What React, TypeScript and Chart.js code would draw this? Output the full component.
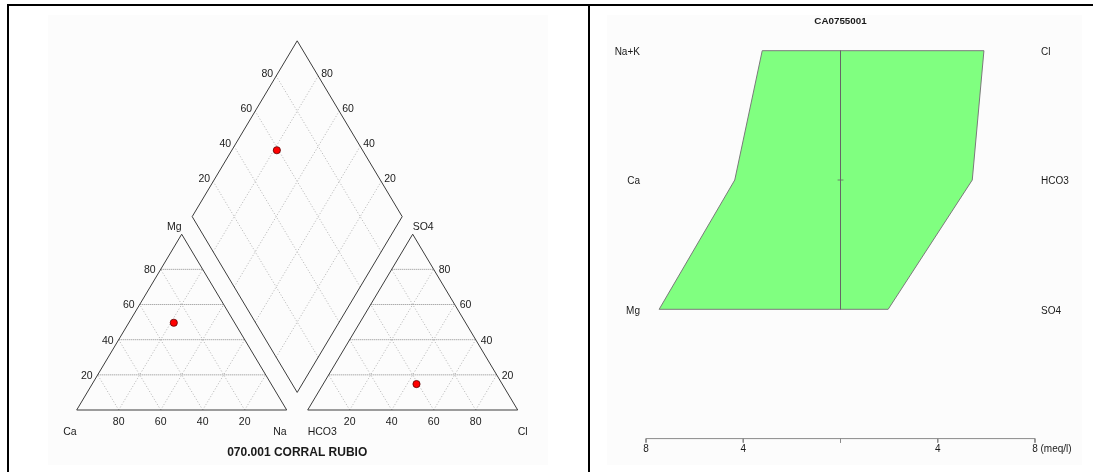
import React, { useEffect, useRef } from 'react';
import { Chart, registerables } from 'chart.js';

Chart.register(...registerables);

const W = 1093;
const H = 472;

// Sample composition (meq/l)
const cationNames = ['Na+K', 'Ca', 'Mg'];
const cationMeq = [3.22, 4.35, 7.46];
const anionNames = ['Cl', 'HCO3', 'SO4'];
const anionMeq = [5.9, 5.42, 1.96];

// Axis ticks
const percentTicks = [20, 40, 60, 80];
const stiffTicks = [-8, -4, 0, 4, 8];
const stiffTickLabels = ['8', '4', '', '4', '8'];
const stiffUnit = '(meq/l)';

const piperTitle = '070.001 CORRAL RUBIO';
const stiffTitle = 'CA0755001';

const FONT = '"Liberation Sans", Arial, Helvetica, sans-serif';

// Piper geometry: triangle side 100, gap 10 between triangles
const S3 = Math.sqrt(3) / 2;
const GAP = 10;
const AX = 100 + GAP;

type Pt = { x: number; y: number };

const seg = (a: Pt, b: Pt): Pt[] => [a, b];

function piperPoints() {
  const ct = cationMeq.reduce((s, v) => s + v, 0);
  const at = anionMeq.reduce((s, v) => s + v, 0);
  const na = (cationMeq[0] / ct) * 100;
  const mg = (cationMeq[2] / ct) * 100;
  const cl = (anionMeq[0] / at) * 100;
  const so4 = (anionMeq[2] / at) * 100;
  const c: Pt = { x: na + mg / 2, y: mg * S3 };
  const a: Pt = { x: AX + cl + so4 / 2, y: so4 * S3 };
  // projection of both points into the diamond
  const t = (2 * (a.x - c.x) + (a.y - c.y) / S3) / 2;
  const d: Pt = { x: c.x + 0.5 * t, y: c.y + S3 * t };
  return { c, a, d };
}

function triangleGrid(ox: number) {
  const hor: Pt[][] = [];
  const diag: Pt[][] = [];
  percentTicks.forEach((v) => {
    hor.push(seg({ x: ox + v / 2, y: v * S3 }, { x: ox + 100 - v / 2, y: v * S3 }));
    diag.push(seg({ x: ox + v, y: 0 }, { x: ox + v + (100 - v) / 2, y: (100 - v) * S3 }));
    diag.push(seg({ x: ox + 100 - v, y: 0 }, { x: ox + (100 - v) / 2, y: (100 - v) * S3 }));
  });
  return { hor, diag };
}

const G: Pt = { x: 105, y: GAP * S3 };
const DL: Pt = { x: 55, y: GAP * S3 + 100 * S3 };
const DT: Pt = { x: 105, y: GAP * S3 + 200 * S3 };
const DR: Pt = { x: 155, y: GAP * S3 + 100 * S3 };

const lerp = (a: Pt, b: Pt, f: number): Pt => ({ x: a.x + (b.x - a.x) * f, y: a.y + (b.y - a.y) * f });

function diamondGrid() {
  const lines: Pt[][] = [];
  percentTicks.forEach((v) => {
    const f = v / 100;
    lines.push(seg(lerp(G, DL, f), lerp(DR, DT, f)));
    lines.push(seg(lerp(G, DR, f), lerp(DL, DT, f)));
  });
  return lines;
}

// pixel mapping of the two coordinate systems (full canvas = chart area)
const PX_X = 2.1;
const PX_Y = 2.03;
const X_MIN = -76.7 / PX_X;
const Y_MAX = 410 / PX_Y;
const SX_PX = 24.31;
const SX_MIN = -840.5 / SX_PX;
const SY_PX = 129.3;
const SY_MIN = -50.7 / SY_PX;

const lineDs = (pts: Pt[], color: string, width = 1, dash: number[] = [], stiff = false) => ({
  data: pts,
  showLine: true,
  borderColor: color,
  borderWidth: width,
  borderDash: dash,
  pointRadius: 0,
  pointHoverRadius: 0,
  fill: false,
  tension: 0,
  xAxisID: stiff ? 'xs' : 'x',
  yAxisID: stiff ? 'ys' : 'y',
});

const framePlugin = {
  id: 'frame',
  beforeDraw(chart: any) {
    const { ctx } = chart;
    ctx.save();
    ctx.fillStyle = '#ffffff';
    ctx.fillRect(0, 0, W, H);
    ctx.fillStyle = '#fcfcfc';
    ctx.fillRect(48, 15, 500, 450);
    ctx.fillRect(607, 15, 475, 450);
    ctx.fillStyle = '#000000';
    ctx.fillRect(7, 4, W - 7, 2);
    ctx.fillRect(7, 4, 2, H - 4);
    ctx.fillRect(588, 4, 2, H - 4);
    ctx.restore();
  },
};

const labelPlugin = {
  id: 'labels',
  afterDatasetsDraw(chart: any) {
    const { ctx } = chart;
    const sx = chart.scales.x;
    const sy = chart.scales.y;
    const tx = chart.scales.xs;
    const ty = chart.scales.ys;
    const P = (p: Pt) => [sx.getPixelForValue(p.x), sy.getPixelForValue(p.y)];
    const text = (s: string, x: number, y: number, align: CanvasTextAlign, font: string) => {
      ctx.font = font;
      ctx.textAlign = align;
      ctx.textBaseline = 'middle';
      ctx.fillStyle = '#1a1a1a';
      ctx.fillText(s, x, y);
    };
    ctx.save();
    const f = `10.5px ${FONT}`;

    // cation triangle
    percentTicks.forEach((v) => {
      const [lx, ly] = P({ x: v / 2, y: v * S3 });
      text(String(v), lx - 5, ly + 1, 'right', f);
      const [bx, by] = P({ x: 100 - v, y: 0 });
      text(String(v), bx, by + 12, 'center', f);
    });
    const [cax, cay] = P({ x: 0, y: 0 });
    text(cationNames[1], cax, cay + 22, 'right', f);
    const [nax, nay] = P({ x: 100, y: 0 });
    text('Na', nax, nay + 22, 'right', f);
    const [mgx, mgy] = P({ x: 50, y: 100 * S3 });
    text(cationNames[2], mgx, mgy - 7, 'right', f);

    // anion triangle
    percentTicks.forEach((v) => {
      const [rx, ry] = P({ x: AX + 100 - v / 2, y: v * S3 });
      text(String(v), rx + 5, ry + 1, 'left', f);
      const [bx, by] = P({ x: AX + v, y: 0 });
      text(String(v), bx, by + 12, 'center', f);
    });
    const [hx, hy] = P({ x: AX, y: 0 });
    text(anionNames[1], hx, hy + 22, 'left', f);
    const [clx, cly] = P({ x: AX + 100, y: 0 });
    text(anionNames[0], clx, cly + 22, 'left', f);
    const [sox, soy] = P({ x: AX + 50, y: 100 * S3 });
    text(anionNames[2], sox, soy - 7, 'left', f);

    // diamond
    percentTicks.forEach((v) => {
      const [lx, ly] = P(lerp(DL, DT, v / 100));
      text(String(v), lx - 3, ly - 2, 'right', f);
      const [rx, ry] = P(lerp(DR, DT, v / 100));
      text(String(v), rx + 3, ry - 2, 'left', f);
    });

    const [tcx, tcy] = P({ x: 105, y: 0 });
    text(piperTitle, tcx, tcy + 43, 'center', `bold 12px ${FONT}`);

    // Stiff diagram labels
    const sf = `10px ${FONT}`;
    const row = (i: number) => ty.getPixelForValue(i);
    text(stiffTitle, tx.getPixelForValue(0), 21.7, 'center', `bold 9.8px ${FONT}`);
    cationNames.forEach((n, i) => text(n, tx.getPixelForValue(-8.25), row(i) + 1.5, 'right', sf));
    anionNames.forEach((n, i) => text(n, tx.getPixelForValue(8.25), row(i) + 1.5, 'left', sf));
    stiffTicks.forEach((t, i) => {
      const lab = stiffTickLabels[i];
      if (!lab) return;
      text(lab, tx.getPixelForValue(t), row(3) + 11, 'center', sf);
    });
    ctx.font = sf;
    const last = stiffTicks[stiffTicks.length - 1];
    const w8 = ctx.measureText(stiffTickLabels[stiffTickLabels.length - 1]).width;
    const ws = ctx.measureText(' ').width;
    text(stiffUnit, tx.getPixelForValue(last) + w8 / 2 + ws, row(3) + 11, 'left', sf);

    ctx.restore();
  },
};

export default function App() {
  const ref = useRef<HTMLCanvasElement | null>(null);

  useEffect(() => {
    if (!ref.current) return;
    const { c, a, d } = piperPoints();
    const cg = triangleGrid(0);
    const ag = triangleGrid(AX);
    const dg = diamondGrid();

    const edge = '#3c3c3c';
    const gridHor = '#8a8a8a';
    const gridDiag = '#b4b4b4';

    const stiffPoly: Pt[] = [
      { x: -cationMeq[0], y: 0 },
      { x: anionMeq[0], y: 0 },
      { x: anionMeq[1], y: 1 },
      { x: anionMeq[2], y: 2 },
      { x: -cationMeq[2], y: 2 },
      { x: -cationMeq[1], y: 1 },
      { x: -cationMeq[0], y: 0 },
    ];
    const tickLen = 4 / SY_PX;

    const datasets: any[] = [
      {
        data: [c, a, d],
        showLine: false,
        pointRadius: 3.6,
        pointHoverRadius: 3.6,
        pointBackgroundColor: '#ff0000',
        pointBorderColor: '#5a0000',
        pointBorderWidth: 0.8,
        xAxisID: 'x',
        yAxisID: 'y',
      },
      lineDs([{ x: 0, y: 0 }, { x: 100, y: 0 }, { x: 50, y: 100 * S3 }, { x: 0, y: 0 }], edge),
      lineDs([{ x: AX, y: 0 }, { x: AX + 100, y: 0 }, { x: AX + 50, y: 100 * S3 }, { x: AX, y: 0 }], edge),
      lineDs([G, DR, DT, DL, G], edge),
      ...cg.hor.map((s) => lineDs(s, gridHor, 1, [1, 1])),
      ...ag.hor.map((s) => lineDs(s, gridHor, 1, [1, 1])),
      ...cg.diag.map((s) => lineDs(s, gridDiag, 1, [1, 2])),
      ...ag.diag.map((s) => lineDs(s, gridDiag, 1, [1, 2])),
      ...dg.map((s) => lineDs(s, gridDiag, 1, [1, 2])),
      // Stiff diagram
      lineDs([{ x: 0, y: 0 }, { x: 0, y: 2 }], '#666666', 0.8, [], true),
      lineDs([{ x: -0.12, y: 1 }, { x: 0.12, y: 1 }], '#666666', 0.8, [], true),
      {
        ...lineDs(stiffPoly, '#7a7a7a', 1, [], true),
        fill: 'shape',
        backgroundColor: '#80ff80',
      },
      lineDs([{ x: stiffTicks[0], y: 3 }, { x: stiffTicks[stiffTicks.length - 1], y: 3 }], '#8a8a8a', 1, [], true),
      ...stiffTicks.map((t) => lineDs([{ x: t, y: 3 }, { x: t, y: 3 + tickLen }], '#8a8a8a', 1, [], true)),
    ];

    const chart = new Chart(ref.current, {
      type: 'scatter',
      data: { datasets },
      options: {
        responsive: false,
        maintainAspectRatio: false,
        animation: false,
        events: [],
        layout: { padding: 0, autoPadding: false },
        plugins: { legend: { display: false }, tooltip: { enabled: false }, title: { display: false } },
        scales: {
          x: { type: 'linear', display: false, bounds: 'data', min: X_MIN, max: X_MIN + W / PX_X },
          y: { type: 'linear', display: false, bounds: 'data', min: Y_MAX - H / PX_Y, max: Y_MAX },
          xs: { type: 'linear', display: false, bounds: 'data', min: SX_MIN, max: SX_MIN + W / SX_PX },
          ys: { type: 'linear', display: false, bounds: 'data', reverse: true, min: SY_MIN, max: SY_MIN + H / SY_PX },
        },
      },
      plugins: [framePlugin, labelPlugin],
    } as any);
    return () => chart.destroy();
  }, []);

  return (
    <div style={{ position: 'absolute', left: 0, top: 0, width: W, height: H, background: '#fff' }}>
      <canvas ref={ref} width={W} height={H} style={{ display: 'block', width: W, height: H }} />
    </div>
  );
}
